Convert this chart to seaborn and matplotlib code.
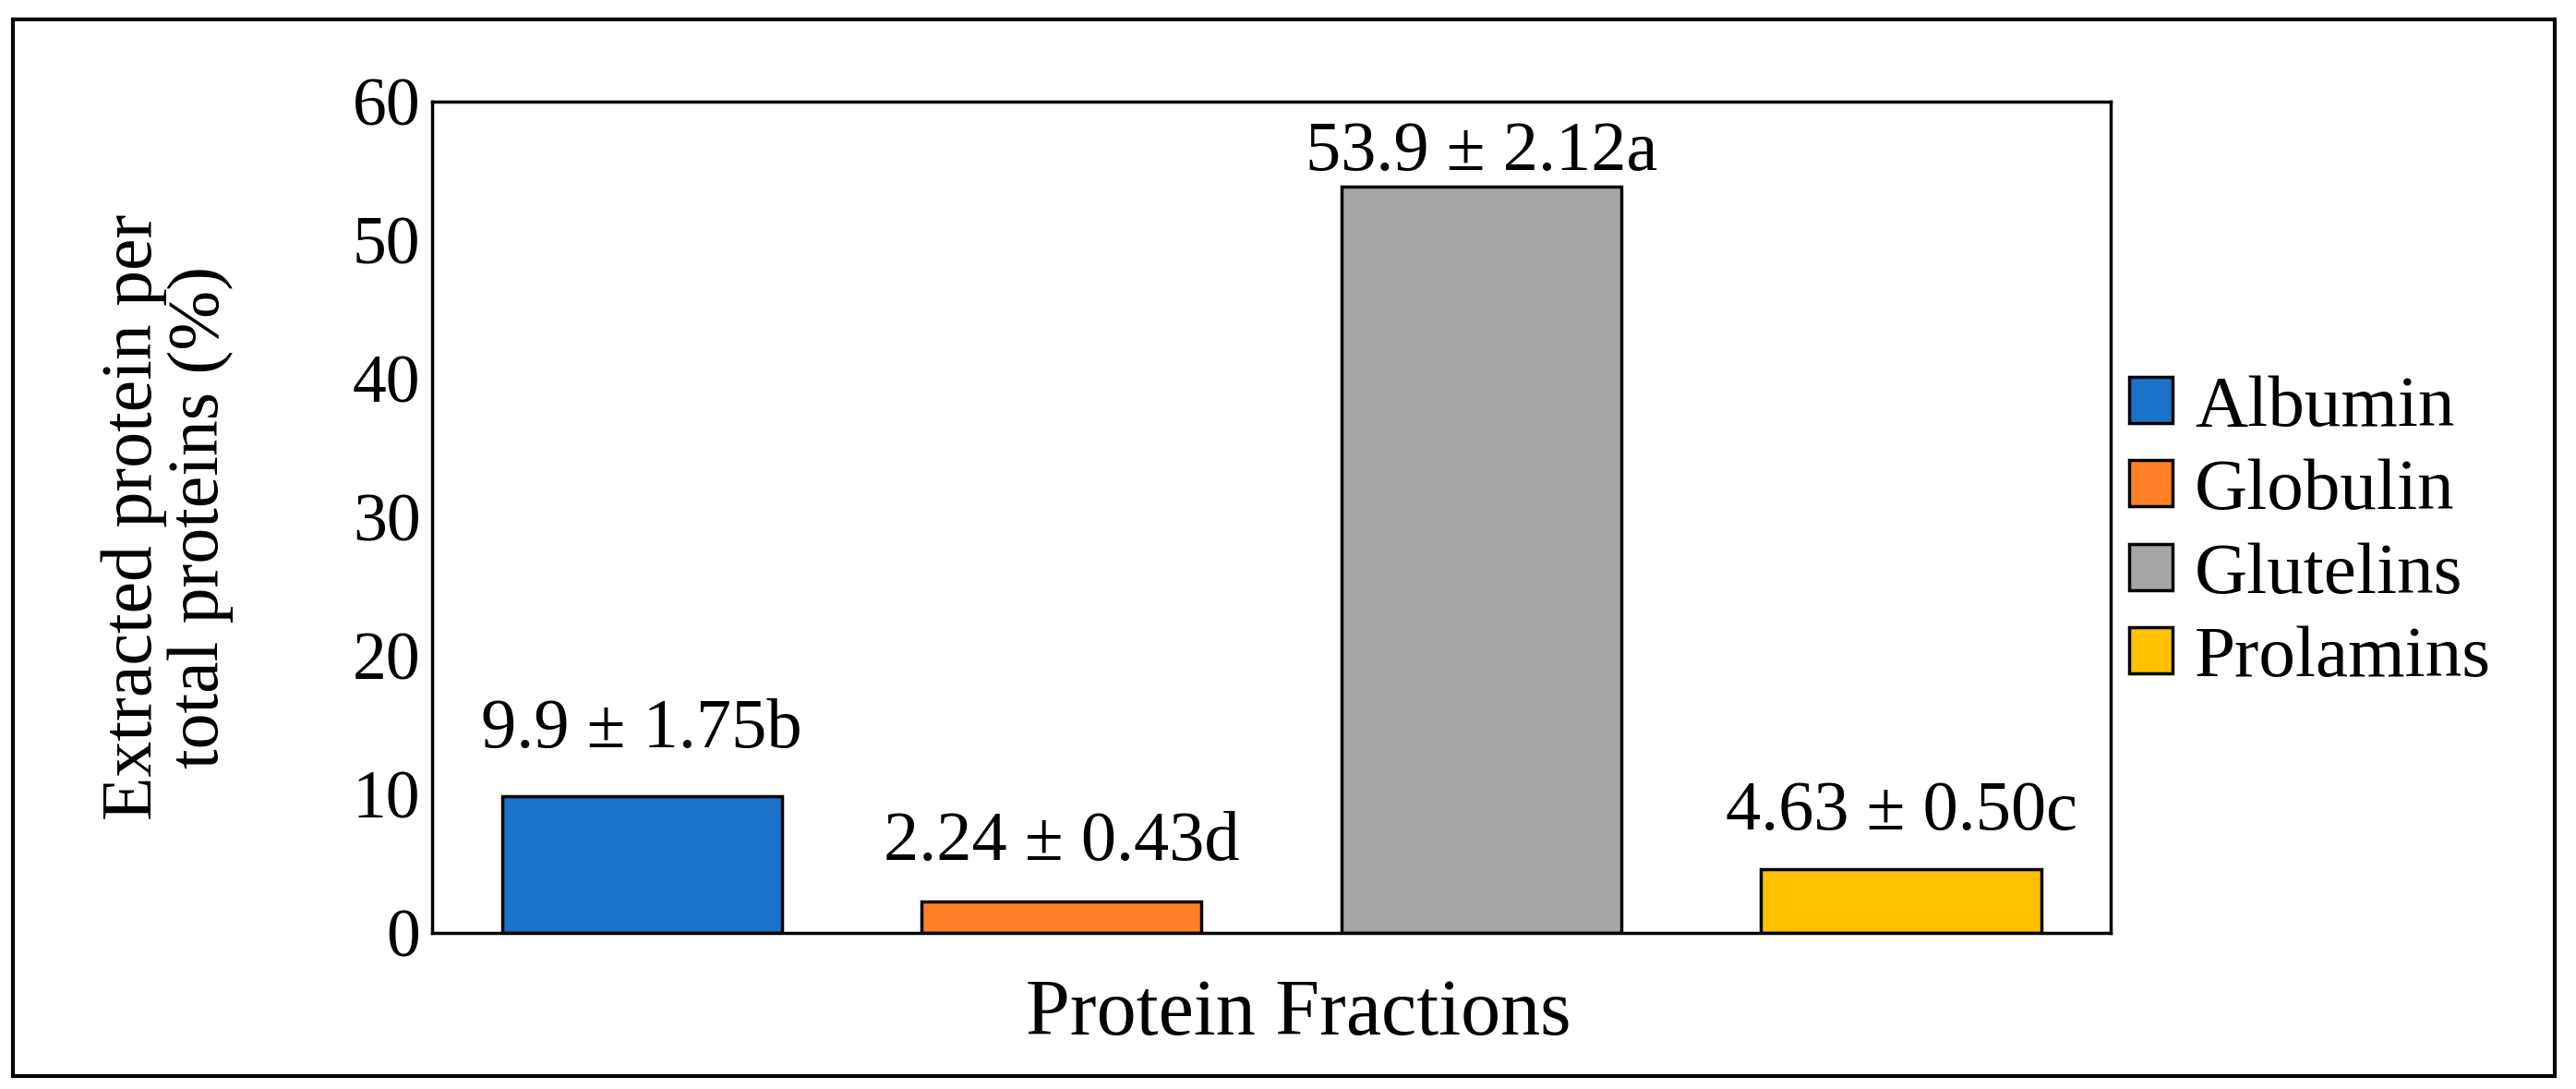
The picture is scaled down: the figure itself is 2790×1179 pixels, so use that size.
import matplotlib
matplotlib.use('Agg')
import matplotlib.pyplot as plt
import seaborn as sns
import pandas as pd
from matplotlib.patches import Rectangle

fractions = ['Albumin', 'Globulin', 'Glutelins', 'Prolamins']
extracted = [9.9, 2.24, 53.9, 4.63]
labels = ['9.9 ± 1.75b', '2.24 ± 0.43d', '53.9 ± 2.12a', '4.63 ± 0.50c']
colors = ['#1A73C8', '#FF8026', '#A6A6A6', '#FFC000']
label_offsets = [38, 33, 13, 31]  # points above bar top
yticks = [0, 10, 20, 30, 40, 50, 60]

df = pd.DataFrame({'fraction': fractions, 'value': extracted})

sns.set_style('white')
plt.rcParams['font.family'] = ['Liberation Serif', 'DejaVu Serif']
plt.rcParams['text.color'] = 'black'
plt.rcParams['ytick.color'] = 'black'

fig = plt.figure(figsize=(27.9, 11.79), dpi=100)
ax = fig.add_axes([0.1677, 0.1433, 0.6518, 0.7632])

sns.barplot(data=df, x='fraction', y='value', hue='fraction', palette=colors,
            order=fractions, hue_order=fractions, dodge=False, width=0.667,
            saturation=1, edgecolor='black', linewidth=2.5, legend=False, ax=ax)

for i, (v, lab, off) in enumerate(zip(extracted, labels, label_offsets)):
    ax.annotate(lab, xy=(i, v), xytext=(0, off), textcoords='offset points',
                ha='center', va='baseline', fontsize=55, color='black')

ax.set_xlim(-0.5, 3.5)
ax.set_ylim(0, 60)
ax.set_yticks(yticks)
ax.set_yticklabels([str(t) for t in yticks], fontsize=53)
ax.tick_params(axis='y', length=0, pad=9, labelcolor='black')
ax.set_xticks([])
ax.set_xlabel('')
ax.set_ylabel('')
for s in ax.spines.values():
    s.set_visible(True)
    s.set_color('black')
    s.set_linewidth(2.5)

fig.text(0.065, 0.525, 'Extracted protein per\ntotal proteins (%)', rotation=90,
         ha='center', va='center', fontsize=56, linespacing=1.0)
fig.text(0.504, 0.068, 'Protein Fractions', ha='center', va='center', fontsize=62)

handles = [Rectangle((0, 0), 1, 1, facecolor=c, edgecolor='black', linewidth=2.5)
           for c in colors]
fig.legend(handles, fractions, loc='center left', bbox_to_anchor=(0.815, 0.51),
           frameon=False, fontsize=57, handlelength=0.6, handleheight=0.6,
           handletextpad=0.3, labelspacing=0.24, borderaxespad=0)

border = Rectangle((0.0051, 0.012), 0.9866, 0.970, transform=fig.transFigure,
                   fill=False, edgecolor='black', linewidth=3)
fig.patches.append(border)

fig.savefig('out.png', dpi=100)
plt.close(fig)
